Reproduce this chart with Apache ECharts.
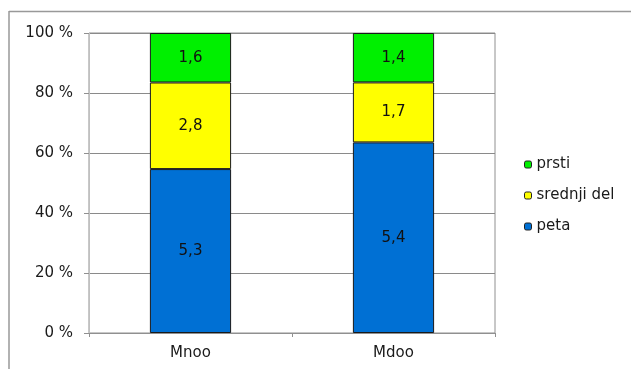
<!DOCTYPE html>
<html><head><meta charset="utf-8">
<script src="https://cdn.jsdelivr.net/npm/echarts@6/dist/echarts.min.js"></script>
<style>html,body{margin:0;padding:0;background:#fff;overflow:hidden}#c{width:631px;height:369px}</style>
</head><body><div id="c"></div>
<script>
var categories = ['Mnoo', 'Mdoo'];
var peta = [5.3, 5.4];
var srednjiDel = [2.8, 1.7];
var prsti = [1.6, 1.4];
var seriesNames = ['peta', 'srednji del', 'prsti'];
var seriesColors = ['#0070d4', '#ffff00', '#00f000'];
var yTicks = [0, 20, 40, 60, 80, 100];

var raw = [peta, srednjiDel, prsti];
var totals = categories.map(function (c, i) { return raw.reduce(function (s, a) { return s + a[i]; }, 0); });

var FONT = 'DejaVu Sans, Liberation Sans, sans-serif';
var chart = echarts.init(document.getElementById('c'));
chart.setOption({
  animation: false,
  textStyle: { fontFamily: FONT },
  graphic: [
    { type: 'line', shape: { x1: 9, y1: 11.5, x2: 660, y2: 11.5 }, style: { stroke: '#999', lineWidth: 1.5 }, silent: true },
    { type: 'line', shape: { x1: 9, y1: 11, x2: 9, y2: 369 }, style: { stroke: '#999', lineWidth: 1.5 }, silent: true }
  ],
  grid: { left: 89, right: 136, top: 33, bottom: 36, show: true, borderColor: '#909090', borderWidth: 1 },
  legend: {
    orient: 'vertical', left: 524, top: 157, padding: 0, itemWidth: 7, itemHeight: 7, itemGap: 16,
    data: ['prsti', 'srednji del', 'peta'],
    textStyle: { fontSize: 15, color: '#1a1a1a', fontFamily: FONT },
    itemStyle: { borderColor: '#222', borderWidth: 1 }
  },
  xAxis: {
    type: 'category', data: categories,
    axisLine: { lineStyle: { color: '#909090' } },
    axisTick: { show: true, length: 4, lineStyle: { color: '#909090' } },
    axisLabel: { fontSize: 15, color: '#1a1a1a', margin: 13, fontFamily: FONT }
  },
  yAxis: {
    type: 'value', min: 0, max: 100, interval: 20,
    axisLine: { show: true, lineStyle: { color: '#c0c0c0' } },
    axisTick: { show: true, length: 5, lineStyle: { color: '#909090' } },
    axisLabel: { fontSize: 15, color: '#1a1a1a', margin: 16, fontFamily: FONT, formatter: function (v) { return yTicks.indexOf(v) >= 0 ? v + ' %' : ''; } },
    splitLine: { lineStyle: { color: '#8a8a8a' } }
  },
  series: raw.map(function (arr, k) {
    return {
      name: seriesNames[k], type: 'bar', stack: 'total', barWidth: '40%',
      itemStyle: { color: seriesColors[k], borderColor: '#1a1a1a', borderWidth: 1 },
      label: { show: true, position: 'inside', fontSize: 15, color: '#111', fontFamily: FONT,
        formatter: function (p) { return String(arr[p.dataIndex]).replace('.', ','); } },
      data: arr.map(function (v, i) { return v / totals[i] * 100; })
    };
  })
});
</script></body></html>
